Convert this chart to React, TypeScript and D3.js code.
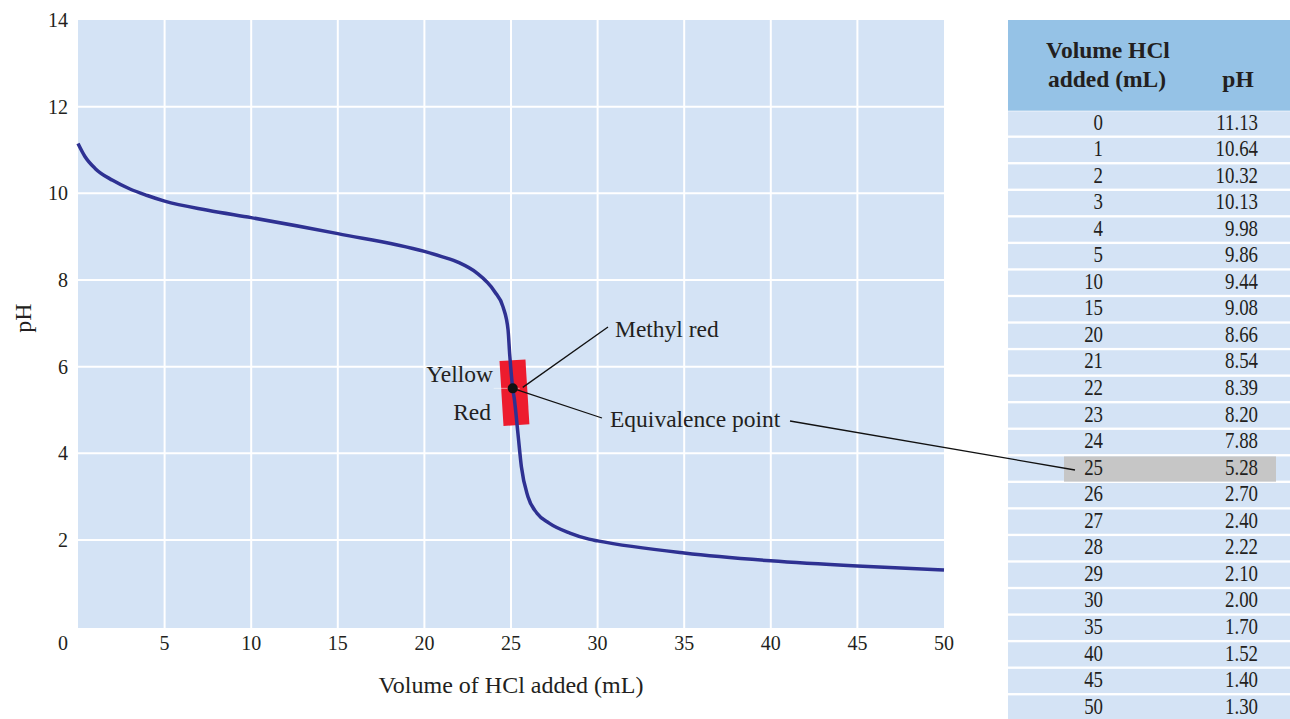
import React from "react";
import * as d3 from "d3";

// Table data
const tableVolumes = [0, 1, 2, 3, 4, 5, 10, 15, 20, 21, 22, 23, 24, 25, 26, 27, 28, 29, 30, 35, 40, 45, 50];
const tablePH = [11.13, 10.64, 10.32, 10.13, 9.98, 9.86, 9.44, 9.08, 8.66, 8.54, 8.39, 8.2, 7.88, 5.28, 2.7, 2.4, 2.22, 2.1, 2.0, 1.7, 1.52, 1.4, 1.3];
const highlightVolume = 25;

// Curve as drawn in the picture
const curveVolume = [0, 0.4, 1, 2, 3, 4, 5, 7.5, 10, 15, 20, 21, 22, 23, 24.06, 24.54, 24.83, 24.92, 24.98, 25.1, 25.2, 25.4, 25.6, 25.98, 26.5, 27.2, 28.4, 29.5, 30, 35, 40, 45, 50];
const curvePH = [11.15, 10.85, 10.57, 10.3, 10.1, 9.95, 9.82, 9.61, 9.44, 9.07, 8.66, 8.54, 8.4, 8.17, 7.73, 7.38, 6.85, 6.31, 6.0, 5.5, 5.23, 4.46, 3.69, 3.0, 2.62, 2.39, 2.16, 2.02, 1.98, 1.7, 1.52, 1.4, 1.31];

const equivalence = { volume: 25.1, pH: 5.5 };
const indicatorRange = { low: 4.65, high: 6.15, center: 25.2 };

const xTicks = [5, 10, 15, 20, 25, 30, 35, 40, 45, 50];
const yTicks = [2, 4, 6, 8, 10, 12, 14];
const xGrid = [5, 10, 15, 20, 25, 30, 35, 40, 45];
const yGrid = [2, 4, 6, 8, 10, 12];

const FONT = "'Liberation Serif', 'Times New Roman', serif";
const TEXT = "#231f20";

export default function App() {
  const x = d3.scaleLinear().domain([0, 50]).range([78, 944]);
  const y = d3.scaleLinear().domain([0, 14]).range([626.7, 20]);

  const line = d3
    .line<number>()
    .x((_, i) => x(curveVolume[i]))
    .y((_, i) => y(curvePH[i]))
    .curve(d3.curveMonotoneX);

  const curvePath = line(curveVolume) || "";

  const tx0 = 1008;
  const tx1 = 1290;
  const headerTop = 20;
  const headerBottom = 110.7;
  const rowTop0 = 111.3;
  const rowPitch = 26.55;
  const rowFill = 24.2;
  const baseOff = 18.2;

  const ex = x(equivalence.volume);
  const ey = y(equivalence.pH);
  const rcx = x(indicatorRange.center);
  const rcy = y((indicatorRange.low + indicatorRange.high) / 2);
  const rh = y(indicatorRange.low) - y(indicatorRange.high);
  const rw = x(1.5) - x(0);

  const hiIndex = tableVolumes.indexOf(highlightVolume);
  const hiTop = rowTop0 + hiIndex * rowPitch;

  return (
    <svg
      width={1290}
      height={719}
      style={{ position: "absolute", left: 0, top: 0, background: "#fff" }}
      fontFamily={FONT}
    >
      {/* plot background */}
      <rect x={x(0)} y={y(14)} width={x(50) - x(0)} height={628 - y(14)} fill="#d4e3f5" />
      {xGrid.map((v) => (
        <line key={"xg" + v} x1={x(v)} x2={x(v)} y1={y(14)} y2={628} stroke="#fff" strokeWidth={2} />
      ))}
      {yGrid.map((v) => (
        <line key={"yg" + v} x1={x(0)} x2={x(50)} y1={y(v)} y2={y(v)} stroke="#fff" strokeWidth={2} />
      ))}

      {/* tick labels */}
      {xTicks.map((v) => (
        <text key={"xt" + v} x={x(v)} y={650} textAnchor="middle" fontSize={20} fill={TEXT}>
          {v}
        </text>
      ))}
      <text x={63} y={650} textAnchor="middle" fontSize={20} fill={TEXT}>0</text>
      {yTicks.map((v) => (
        <text key={"yt" + v} x={68} y={y(v) + 7} textAnchor="end" fontSize={20} fill={TEXT}>
          {v}
        </text>
      ))}

      {/* axis titles */}
      <text x={(x(0) + x(50)) / 2} y={693} textAnchor="middle" fontSize={24} fill={TEXT}>
        Volume of HCl added (mL)
      </text>
      <text transform={`translate(31, 318) rotate(-90)`} textAnchor="middle" fontSize={24} fill={TEXT}>
        pH
      </text>

      {/* indicator rectangle */}
      <g transform={`translate(${rcx}, ${rcy}) rotate(-3.5)`}>
        <rect x={-rw / 2} y={-rh / 2} width={rw} height={rh} fill="#ed1c2e" />
      </g>
      <line x1={x(24.0)} x2={x(25.5)} y1={ey} y2={ey} stroke="#fff" strokeOpacity={0.5} strokeWidth={1} />

      {/* curve */}
      <path d={curvePath} fill="none" stroke="#2e3192" strokeWidth={3.5} />

      {/* leader lines */}
      <line x1={ex + 10} y1={ey - 1} x2={608} y2={327} stroke="#111" strokeWidth={1.3} />
      <line x1={ex} y1={ey} x2={602} y2={418} stroke="#111" strokeWidth={1.3} />

      <circle cx={ex} cy={ey} r={5} fill="#111" />

      {/* annotations */}
      <text x={493} y={382} textAnchor="end" fontSize={23.5} fill={TEXT}>Yellow</text>
      <text x={491} y={420} textAnchor="end" fontSize={23.5} fill={TEXT}>Red</text>
      <text x={615} y={337} fontSize={23.5} fill={TEXT}>Methyl red</text>
      <text x={610} y={427} fontSize={23.5} fill={TEXT}>Equivalence point</text>

      {/* table */}
      <rect x={tx0} y={headerTop} width={tx1 - tx0} height={headerBottom - headerTop} fill="#95c2e6" />
      <text x={1108} y={58} textAnchor="middle" fontSize={23.5} fontWeight="bold" fill={TEXT}>Volume HCl</text>
      <text x={1107} y={87} textAnchor="middle" fontSize={23.5} fontWeight="bold" fill={TEXT}>added (mL)</text>
      <text x={1238} y={87} textAnchor="middle" fontSize={23.5} fontWeight="bold" fill={TEXT}>pH</text>

      {tableVolumes.map((v, i) => {
        const top = rowTop0 + i * rowPitch;
        return (
          <rect key={"row" + v} x={tx0} y={top} width={tx1 - tx0} height={rowFill} fill="#d4e3f5" />
        );
      })}
      <rect x={1064} y={hiTop} width={1276 - 1064} height={rowFill + 1} fill="#c6c6c6" />
      {tableVolumes.map((v, i) => {
        const top = rowTop0 + i * rowPitch;
        return (
          <g key={"rt" + v}>
            <text transform={`translate(1103, ${top + baseOff}) scale(0.82, 1)`} textAnchor="end" fontSize={23} fill={TEXT}>{v}</text>
            <text transform={`translate(1258, ${top + baseOff}) scale(0.82, 1)`} textAnchor="end" fontSize={23} fill={TEXT}>{tablePH[i].toFixed(2)}</text>
          </g>
        );
      })}

      {/* leader from equivalence label to table row */}
      <line x1={790} y1={421} x2={1075} y2={470} stroke="#111" strokeWidth={1.3} />
    </svg>
  );
}
